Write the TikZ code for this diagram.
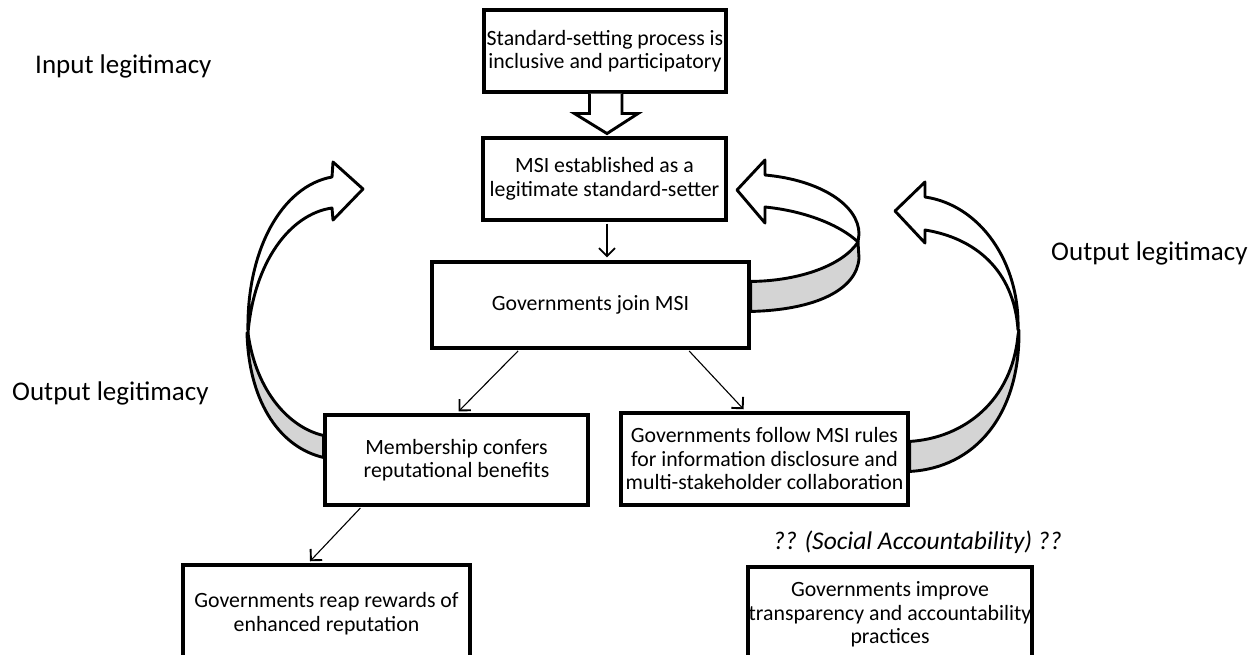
\documentclass[tikz,border=0pt]{standalone}
\usepackage{fontspec}
\setmainfont{Carlito}
\usetikzlibrary{arrows.meta,calc}
\begin{document}
\begin{tikzpicture}[x=1pt,y=-1pt,
  box/.style={draw, line width=3.1pt, align=center, inner sep=0pt, fill=white, font=\fontsize{21.8}{23.5}\selectfont},
  lbl/.style={font=\fontsize{27}{32}\selectfont, inner sep=0pt},
  thinarrow/.style={line width=1.1pt, shorten <=2pt, shorten >=3pt, -{Straight Barb[length=8pt,width=16pt,line width=1.9pt]}},
  ribbon/.style={draw, line width=2.9pt, fill=white, line join=round},
  under/.style={draw, line width=2.9pt, fill=black!17, line join=round},
  blockarrow/.style={draw, line width=2.9pt, fill=white, line join=miter}
]
\useasboundingbox (0,0) rectangle (1257,655);

% boxes
\node[box, minimum width=242pt, minimum height=82pt] (b1) at (605,51) {Standard-setting process is\\inclusive and participatory};
\node[box, minimum width=243pt, minimum height=82pt] (b2) at (604.5,179) {MSI established as a\\legitimate standard-setter};
\node[box, minimum width=317pt, minimum height=86pt] (b3) at (590.5,305) {Governments join MSI};
\node[box, minimum width=263pt, minimum height=90pt] (b4) at (456.5,460) {Membership confers\\reputational benefits};
\node[box, minimum width=287pt, minimum height=92pt] (b5) at (764.5,459) {Governments follow MSI rules\\for information disclosure and\\multi-stakeholder collaboration};
\node[box, minimum width=287pt, minimum height=97pt] (b6) at (326.5,613.5) {Governments reap rewards of\\enhanced reputation};
\node[box, minimum width=284pt, minimum height=95pt] (b7) at (890,614.5) {Governments improve\\transparency and accountability\\practices};

% labels
\node[lbl, anchor=base west] (l1) at (35,74) {Input legitimacy};
\node[lbl, anchor=base west] (l2) at (1051,260) {Output legitimacy};
\node[lbl, anchor=base west] (l3) at (12,400) {Output legitimacy};
\node[lbl, anchor=base west, font=\fontsize{25.5}{30}\selectfont\itshape] (l4) at (773,549) {?? (Social Accountability) ??};

% block arrow b1 -> b2
\draw[blockarrow] ($(b1.south)+(-15.5,0)$) -- ++(0,20) -- ++(-15,0) -- ($(b1.south)+(2,40)$) -- ($(b1.south)+(33,20)$) -- ++(-16,0) -- ($(b1.south)+(17,0)$);

% thin arrows
\coordinate (a2) at ($(b2.south)+(2.5,0)$);
\draw[thinarrow] (a2) -- (a2 |- b3.north);
\draw[thinarrow] ($(b3.south west)!0.278!(b3.south east)$) -- (b4.north);
\draw[thinarrow] ($(b3.south west)!0.804!(b3.south east)$) -- ($(b5.north west)!0.435!(b5.north east)$);
\draw[thinarrow] ($(b4.south west)!0.144!(b4.south east)$) -- ($(b6.north west)!0.436!(b6.north east)$);

% left ribbon arrow (from b4 up to the right)
\coordinate (tl) at ($(b4.north west)+(0,22)$);
\coordinate (bl) at ($(b4.north west)+(0,44)$);
\draw[under] (248,333) .. controls (256,392) and (290,428) .. (tl) -- (bl) .. controls (282,448) and (249,405) .. (247,333) -- cycle;
\draw[ribbon] (332,177) -- (333,162) -- (363,189) -- (333,220) -- (332,208) .. controls (290,214) and (254,262) .. (248,333) .. controls (246,250) and (282,186) .. (332,177) -- cycle;

% middle ribbon arrow (from b3 up to b2)
\coordinate (tm) at ($(b3.north east)+(0,21)$);
\coordinate (bm) at ($(b3.north east)+(0,51)$);
\draw[under] (858,242) .. controls (843,265) and (800,281) .. (tm) -- (bm) .. controls (815,310) and (857,290) .. (859,258) -- cycle;
\draw[ribbon] (765,175) -- (765,160) -- (737,190) -- (765,223) -- (765,207) .. controls (805,211) and (840,225) .. (858,242) -- (859,234) .. controls (859,205) and (820,180) .. (765,175) -- cycle;

% right ribbon arrow (from b5 up to the left)
\coordinate (tr) at ($(b5.north east)+(0,30)$);
\coordinate (br) at ($(b5.north east)+(0,60)$);
\draw[under] (1018,335) .. controls (1012,400) and (965,438) .. (tr) -- (br) .. controls (975,468) and (1020,415) .. (1019,330) -- cycle;
\draw[ribbon] (925,197) -- (925,182) -- (895,211) -- (925,243) -- (925,230) .. controls (975,238) and (1014,270) .. (1018,330) .. controls (1020,262) and (980,205) .. (925,197) -- cycle;
\end{tikzpicture}
\end{document}
